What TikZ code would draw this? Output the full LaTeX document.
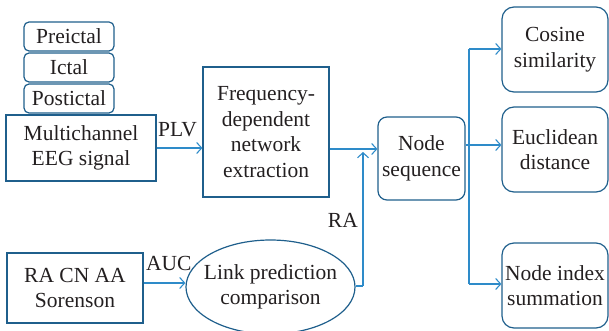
\documentclass[tikz,border=0pt]{standalone}
\usepackage{fontspec}
\setmainfont{Liberation Serif}
\usetikzlibrary{arrows.meta,shapes.geometric}
\definecolor{boxc}{HTML}{1F5F8C}
\definecolor{arrc}{HTML}{2E8BC9}
\definecolor{txtc}{HTML}{231F20}
\tikzset{
  base/.style={draw=boxc, line width=1.2pt, text=txtc, align=center, inner sep=0pt,
    font=\fontsize{21.5}{25.5}\selectfont},
  sqbox/.style={base, rectangle},
  rbox/.style={base, rectangle, rounded corners=9pt},
  tab/.style={base, rectangle, rounded corners=5pt, minimum width=90pt, minimum height=29pt},
  ell/.style={base, ellipse, inner xsep=-8pt},
  conn/.style={draw=arrc, line width=1.1pt},
  arr/.style={conn, -{Straight Barb[length=5pt,width=11pt,line width=1.1pt]}},
  lbl/.style={text=txtc, font=\fontsize{21.5}{25.5}\selectfont, inner sep=0pt}
}
\begin{document}
\begin{tikzpicture}[x=1pt,y=-1pt]
\useasboundingbox (0,0) rectangle (609,331);
\node[tab] (pre) at (69,36.5) {Preictal};
\node[tab] (ict) at (69,67.5) {Ictal};
\node[tab] (post) at (69,98.5) {Postictal};
\node[sqbox, minimum width=150pt, minimum height=66pt] (multi) at (81,148) {Multichannel\\EEG signal};
\node[sqbox, minimum width=126pt, minimum height=130pt] (freq) at (266,132) {Frequency-\\dependent\\network\\extraction};
\node[rbox, minimum width=87pt, minimum height=83pt] (seq) at (421.5,158.5) {Node\\sequence};
\node[rbox, rounded corners=12pt, minimum width=106pt, minimum height=85pt] (cos) at (555,49.5) {Cosine\\similarity};
\node[rbox, rounded corners=12pt, minimum width=106pt, minimum height=85pt] (euc) at (555,149.5) {Euclidean\\distance};
\node[rbox, rounded corners=12pt, minimum width=106pt, minimum height=85pt] (nid) at (555,285.5) {Node index\\summation};
\node[sqbox, minimum width=136pt, minimum height=70pt] (ra) at (75,288) {RA CN AA\\Sorenson};
\node[ell, minimum width=169pt, minimum height=94pt] (link) at (270.5,287) {Link prediction\\comparison};
% labels
\node[lbl, anchor=south west] (plv) at (158,137) {PLV};
\node[lbl, anchor=south west] (auc) at (146,271) {AUC};
\node[lbl, anchor=south east] (ralbl) at (358,228) {RA};
% connectors
\draw[arr] (multi.east |- 0,148) -- (freq.west |- 0,148);
\draw[arr] (freq.east |- 0,149) -- (seq.west |- 0,149);
\draw[arr] (ra.east |- 0,283) -- (link.west |- 0,283);
\coordinate (j1) at (363,286);
\coordinate (j2) at (363,152);
\draw[conn] (link.east |- 0,286) -- (j1);
\draw[arr] (j1) -- (j2);
\coordinate (b) at (469,145);
\coordinate (bt) at (469,49);
\coordinate (bb) at (469,284);
\draw[conn] (seq.east |- 0,145) -- (b);
\draw[arr] (b) -- (euc.west |- b);
\draw[conn] (bt) -- (bb);
\draw[arr] (bt) -- (cos.west |- bt);
\draw[arr] (bb) -- (nid.west |- bb);
\end{tikzpicture}
\end{document}
